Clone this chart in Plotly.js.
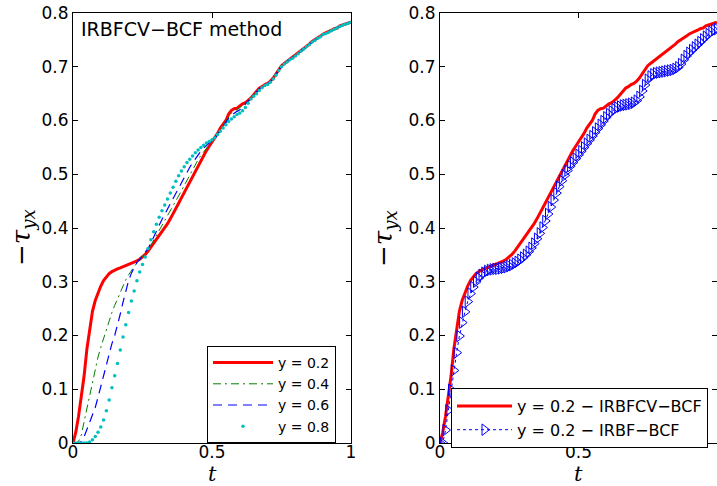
<!DOCTYPE html>
<html>
<head>
<meta charset="utf-8">
<script src="https://cdn.plot.ly/plotly-3.0.1.min.js"></script>
<style>html,body{margin:0;padding:0;background:#fff}#chart{width:717px;height:486px}</style>
</head>
<body>
<div id="chart"></div>
<script>
// time grid
const t = [0,0.01,0.02,0.03,0.04,0.05,0.06,0.07,0.08,0.09,
0.10,0.11,0.12,0.13,0.14,0.15,0.16,0.17,0.18,0.19,
0.20,0.21,0.22,0.23,0.24,0.25,0.26,0.27,0.28,0.29,
0.30,0.31,0.32,0.33,0.34,0.35,0.36,0.37,0.38,0.39,
0.40,0.41,0.42,0.43,0.44,0.45,0.46,0.47,0.48,0.49,
0.50,0.51,0.52,0.53,0.54,0.55,0.56,0.57,0.58,0.59,
0.60,0.61,0.62,0.63,0.64,0.65,0.66,0.67,0.68,0.69,
0.70,0.71,0.72,0.73,0.74,0.75,0.76,0.77,0.78,0.79,
0.80,0.81,0.82,0.83,0.84,0.85,0.86,0.87,0.88,0.89,
0.90,0.91,0.92,0.93,0.94,0.95,0.96,0.97,0.98,0.99,1.00];

// IRBFCV-BCF, y = 0.2
const cv_y02 = [0,0.02,0.05,0.085,0.125,0.175,0.215,0.245,0.265,0.28,
0.292,0.302,0.309,0.315,0.319,0.322,0.324,0.326,0.328,0.33,
0.332,0.334,0.336,0.339,0.342,0.346,0.351,0.357,0.364,0.371,
0.378,0.385,0.392,0.4,0.408,0.417,0.426,0.436,0.446,0.456,
0.466,0.476,0.486,0.496,0.506,0.516,0.526,0.535,0.544,0.552,
0.56,0.567,0.576,0.586,0.594,0.6,0.612,0.619,0.622,0.623,
0.627,0.631,0.633,0.637,0.642,0.648,0.655,0.66,0.663,0.667,
0.669,0.673,0.679,0.686,0.695,0.702,0.706,0.71,0.714,0.718,
0.721,0.726,0.73,0.734,0.738,0.742,0.747,0.75,0.754,0.757,
0.761,0.763,0.765,0.768,0.771,0.772,0.776,0.778,0.779,0.781,0.783];

// IRBFCV-BCF, y = 0.4
const cv_y04 = [0,0,0.003,0.015,0.04,0.065,0.088,0.11,0.135,0.16,
0.178,0.195,0.212,0.228,0.243,0.256,0.268,0.28,0.293,0.304,
0.313,0.321,0.328,0.335,0.341,0.347,0.353,0.36,0.368,0.377,
0.386,0.395,0.404,0.413,0.422,0.431,0.44,0.449,0.459,0.469,
0.479,0.489,0.499,0.509,0.518,0.527,0.535,0.542,0.549,0.555,
0.561,0.567,0.575,0.584,0.592,0.599,0.607,0.614,0.618,0.62,
0.624,0.629,0.632,0.636,0.641,0.647,0.654,0.659,0.662,0.666,
0.668,0.672,0.678,0.685,0.694,0.701,0.705,0.709,0.713,0.717,
0.72,0.725,0.729,0.733,0.737,0.741,0.746,0.749,0.753,0.756,
0.76,0.762,0.764,0.767,0.77,0.771,0.775,0.777,0.778,0.78,0.782];

// IRBFCV-BCF, y = 0.6
const cv_y06 = [0,0,0,0.003,0.012,0.025,0.038,0.05,0.066,0.085,
0.105,0.125,0.148,0.168,0.185,0.2,0.218,0.24,0.262,0.283,
0.302,0.316,0.327,0.336,0.342,0.348,0.354,0.362,0.372,0.382,
0.394,0.405,0.416,0.426,0.436,0.446,0.456,0.466,0.476,0.486,
0.495,0.504,0.513,0.521,0.529,0.536,0.543,0.549,0.554,0.558,
0.562,0.567,0.574,0.582,0.59,0.597,0.604,0.61,0.614,0.617,
0.62,0.625,0.63,0.635,0.641,0.647,0.654,0.659,0.662,0.666,
0.668,0.673,0.678,0.686,0.694,0.701,0.706,0.71,0.713,0.717,
0.721,0.725,0.73,0.734,0.737,0.742,0.746,0.75,0.753,0.757,
0.76,0.763,0.765,0.767,0.77,0.772,0.775,0.778,0.779,0.781,0.782];

// IRBFCV-BCF, y = 0.8
const cv_y08 = [0,0,0,0,0,0,0.002,0.006,0.012,0.02,
0.03,0.043,0.06,0.08,0.103,0.125,0.148,0.173,0.197,0.22,
0.243,0.264,0.283,0.302,0.318,0.332,0.346,0.362,0.378,0.393,
0.407,0.42,0.432,0.443,0.454,0.465,0.476,0.487,0.497,0.506,
0.514,0.522,0.528,0.534,0.54,0.545,0.55,0.554,0.558,0.561,
0.564,0.568,0.574,0.58,0.586,0.592,0.598,0.603,0.607,0.611,
0.614,0.618,0.624,0.632,0.64,0.645,0.65,0.656,0.661,0.665,
0.667,0.671,0.677,0.684,0.693,0.7,0.705,0.709,0.713,0.716,
0.72,0.724,0.729,0.733,0.737,0.741,0.746,0.749,0.753,0.756,
0.76,0.762,0.764,0.767,0.77,0.772,0.775,0.777,0.779,0.781,0.783];

// IRBF-BCF, y = 0.2
const irbf_y02 = [0,0,0.024,0.061,0.099,0.135,0.168,0.199,0.224,0.244,
0.263,0.278,0.29,0.3,0.307,0.313,0.317,0.32,0.322,0.323,
0.324,0.324,0.325,0.326,0.327,0.329,0.331,0.334,0.337,0.341,
0.345,0.35,0.356,0.363,0.371,0.38,0.39,0.401,0.413,0.426,
0.439,0.452,0.465,0.477,0.488,0.498,0.507,0.515,0.522,0.529,
0.536,0.543,0.55,0.557,0.564,0.571,0.578,0.585,0.592,0.599,
0.606,0.612,0.617,0.621,0.624,0.626,0.628,0.629,0.63,0.631,
0.633,0.637,0.644,0.655,0.666,0.676,0.682,0.686,0.688,0.689,
0.69,0.691,0.692,0.693,0.694,0.696,0.699,0.705,0.713,0.72,
0.726,0.731,0.736,0.741,0.746,0.751,0.756,0.761,0.765,0.768,0.77];

const xTickVals = [0, 0.5, 1];
const xTickText = ['0', '0.5', '1'];
const yTickVals = [0,0.1,0.2,0.3,0.4,0.5,0.6,0.7,0.8];
const yTickText = ['0','0.1','0.2','0.3','0.4','0.5','0.6','0.7','0.8'];

const legendLeft = ['y = 0.2', 'y = 0.4', 'y = 0.6', 'y = 0.8'];
const legendRight = ['y = 0.2 \u2212 IRBFCV\u2212BCF', 'y = 0.2 \u2212 IRBF\u2212BCF'];
const panelNote = 'IRBFCV\u2212BCF method';

const sans = 'DejaVu Sans, Arial, sans-serif';
const tickFont = {family: sans, size: 17, color: '#000'};

const traces = [
  {x: t, y: cv_y02, name: legendLeft[0], mode: 'lines', xaxis: 'x', yaxis: 'y', legend: 'legend',
   line: {color: '#ff0000', width: 3}},
  {x: t, y: cv_y04, name: legendLeft[1], mode: 'lines', xaxis: 'x', yaxis: 'y', legend: 'legend',
   line: {color: '#008000', width: 1, dash: '8px,4px,2px,4px'}},
  {x: t, y: cv_y06, name: legendLeft[2], mode: 'lines', xaxis: 'x', yaxis: 'y', legend: 'legend',
   line: {color: '#0000ff', width: 1.2, dash: '9px,6px'}},
  {x: t, y: cv_y08, name: legendLeft[3], mode: 'markers', xaxis: 'x', yaxis: 'y', legend: 'legend',
   marker: {color: '#00bfbf', size: 3.5, symbol: 'circle'}},
  {x: t, y: cv_y02, name: legendRight[0], mode: 'lines', xaxis: 'x2', yaxis: 'y2', legend: 'legend2',
   line: {color: '#ff0000', width: 3}},
  {x: t, y: irbf_y02, name: legendRight[1], mode: 'lines+markers', xaxis: 'x2', yaxis: 'y2', legend: 'legend2',
   line: {color: '#0000ff', width: 1, dash: 'dot'},
   marker: {color: '#0000ff', size: 10, symbol: 'triangle-right-open', line: {width: 1, color: '#0000ff'}}}
];

const axisCommon = {
  range: [0, 1], showgrid: false, zeroline: false, showline: true, linecolor: '#000', linewidth: 1,
  mirror: 'ticks', ticks: 'inside', ticklen: 5, tickcolor: '#000', tickfont: tickFont,
  tickmode: 'array', tickvals: xTickVals, ticktext: xTickText, ticklabelstandoff: -6
};
const yaxisCommon = {
  range: [0, 0.8], showgrid: false, zeroline: false, showline: true, linecolor: '#000', linewidth: 1,
  mirror: 'ticks', ticks: 'inside', ticklen: 5, tickcolor: '#000', tickfont: tickFont,
  tickmode: 'array', tickvals: yTickVals, ticktext: yTickText
};

const W = 717, H = 486;
const layout = {
  width: W, height: H,
  margin: {l: 0, r: 0, t: 0, b: 0},
  paper_bgcolor: '#fff', plot_bgcolor: '#fff',
  showlegend: true,
  xaxis: Object.assign({}, axisCommon, {domain: [73/W, 351/W], anchor: 'y'}),
  yaxis: Object.assign({}, yaxisCommon, {domain: [1 - 443/H, 1 - 13/H], anchor: 'x'}),
  xaxis2: Object.assign({}, axisCommon, {domain: [440/W, 0.9999], anchor: 'y2'}),
  yaxis2: Object.assign({}, yaxisCommon, {domain: [1 - 443/H, 1 - 13/H], anchor: 'x2'}),
  legend: {x: 207/W, y: 1 - 346/H, xanchor: 'left', yanchor: 'top', bgcolor: '#fff',
    bordercolor: '#000', borderwidth: 1, font: {family: sans, size: 14, color: '#000'},
    itemwidth: 60, tracegroupgap: 0},
  legend2: {x: 451/W, y: 1 - 388/H, xanchor: 'left', yanchor: 'top', bgcolor: '#fff',
    bordercolor: '#000', borderwidth: 1, font: {family: sans, size: 16, color: '#000'},
    itemwidth: 55, tracegroupgap: 0},
  annotations: [
    {text: panelNote, xref: 'paper', yref: 'paper', x: 79/W, y: 1 - 29/H, xanchor: 'left', yanchor: 'middle',
     showarrow: false, font: {family: sans, size: 19, color: '#000'}},
    {text: '\u2212<i>\u03c4</i><sub><i>yx</i></sub>', xref: 'paper', yref: 'paper', x: 22/W, y: 1 - 238/H,
     xanchor: 'center', yanchor: 'middle', textangle: -90, showarrow: false,
     font: {family: 'DejaVu Serif, Liberation Serif, serif', size: 26, color: '#000'}},
    {text: '\u2212<i>\u03c4</i><sub><i>yx</i></sub>', xref: 'paper', yref: 'paper', x: 384/W, y: 1 - 238/H,
     xanchor: 'center', yanchor: 'middle', textangle: -90, showarrow: false,
     font: {family: 'DejaVu Serif, Liberation Serif, serif', size: 26, color: '#000'}},
    {text: '<i>t</i>', xref: 'paper', yref: 'paper', x: 212/W, y: 1 - 474/H, xanchor: 'center', yanchor: 'middle',
     showarrow: false, font: {family: 'DejaVu Serif, Liberation Serif, serif', size: 21, color: '#000'}},
    {text: '<i>t</i>', xref: 'paper', yref: 'paper', x: 578/W, y: 1 - 474/H, xanchor: 'center', yanchor: 'middle',
     showarrow: false, font: {family: 'DejaVu Serif, Liberation Serif, serif', size: 21, color: '#000'}}
  ]
};

Plotly.newPlot('chart', traces, layout, {displayModeBar: false, staticPlot: true});
</script>
</body>
</html>
